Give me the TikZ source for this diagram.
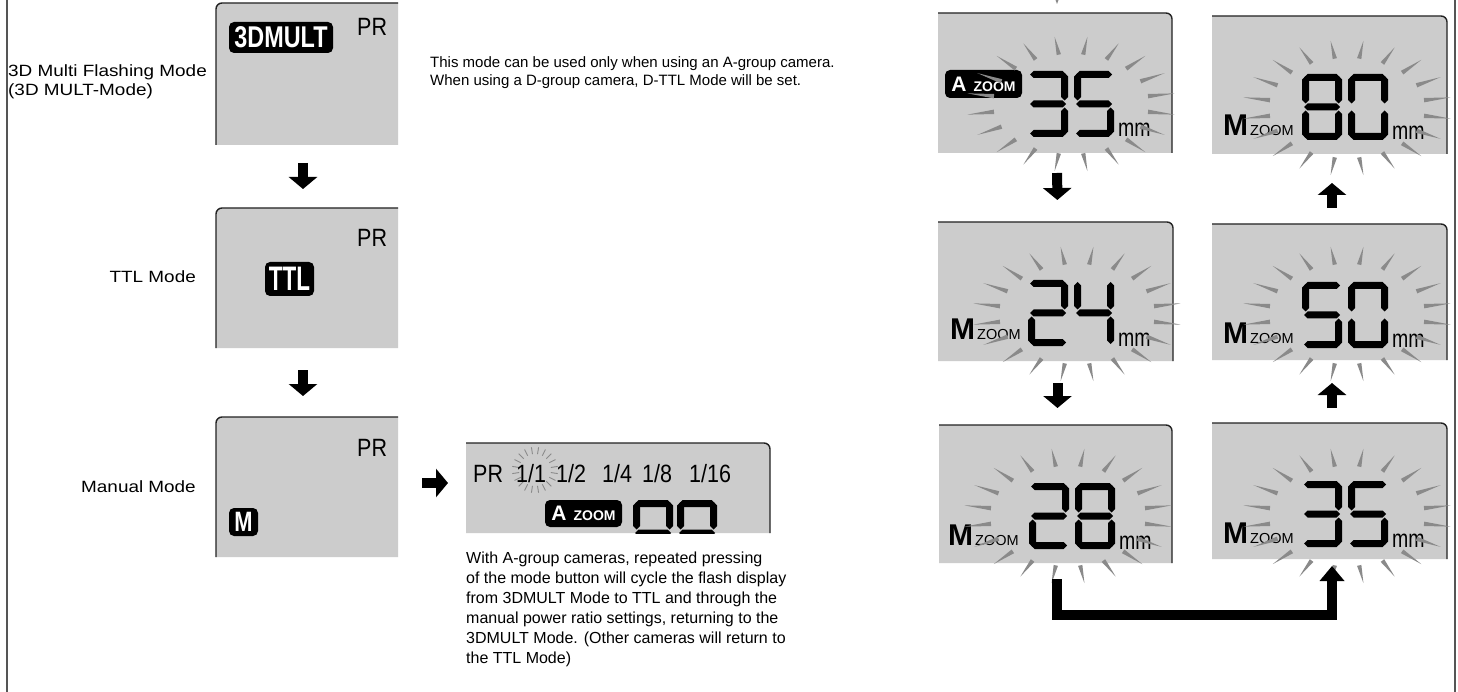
\documentclass[tikz,border=0pt]{standalone}
\usepackage{fontspec}
\setmainfont{Liberation Sans}
\newfontfamily\lcd[FakeStretch=0.86]{Liberation Sans}
\newfontfamily\lcdmm[FakeStretch=0.78]{Liberation Sans}
\newfontfamily\condb[FakeStretch=0.78]{Liberation Sans}
\newfontfamily\condbb[FakeStretch=0.66]{Liberation Sans}
\newfontfamily\widesans[FakeStretch=1.16]{Liberation Sans}
\usetikzlibrary{calc,arrows.meta}
\definecolor{lcdgray}{HTML}{CCCCCC}
\definecolor{edgec}{HTML}{222222}
\definecolor{raygray}{HTML}{8A8A8A}
\definecolor{framec}{HTML}{555555}
\newcommand\fsz[2]{\fontsize{#1}{#2}\selectfont}
% seven-segment pieces (image coordinates, y down)
\newcommand\hseg[3]{\fill[segc] (#1,#3) -- (#1+3.5,#3-3.5) -- (#2-3.5,#3-3.5) -- (#2,#3) -- (#2-3.5,#3+3.5) -- (#1+3.5,#3+3.5) -- cycle;}
\newcommand\vseg[3]{\fill[segc] (#3,#1) -- (#3+3.5,#1+3.5) -- (#3+3.5,#2-3.5) -- (#3,#2) -- (#3-3.5,#2-3.5) -- (#3-3.5,#1+3.5) -- cycle;}
\newcommand\sga[2]{\hseg{#1+2}{#1+38}{#2+3.5}}
\newcommand\sgb[2]{\vseg{#2+2}{#2+29.5}{#1+36.5}}
\newcommand\sgc[2]{\vseg{#2+36.5}{#2+64}{#1+36.5}}
\newcommand\sgd[2]{\hseg{#1+2}{#1+38}{#2+62.5}}
\newcommand\sge[2]{\vseg{#2+36.5}{#2+64}{#1+3.5}}
\newcommand\sgf[2]{\vseg{#2+2}{#2+29.5}{#1+3.5}}
\newcommand\sgg[2]{\hseg{#1+2}{#1+38}{#2+33}}
\newcommand\lcddigit[3]{\foreach \s in {#3}{\csname sg\s\endcsname{#1}{#2}}}
% burst of rays around a centre
\newcommand\burst[2]{%
  \foreach \k in {0,...,19}{%
    \pgfmathsetmacro\rc{cos(9+18*\k)}%
    \pgfmathsetmacro\rs{sin(9+18*\k)}%
    \pgfmathsetmacro\rL{sqrt(729*(\rc)*(\rc)+324*(\rs)*(\rs))}%
    \pgfmathsetmacro\rpx{2.2*18*(\rs)/\rL}%
    \pgfmathsetmacro\rpy{2.2*27*(\rc)/\rL}%
    \fill[rayc] ({#1+78*(\rc)+(\rpx)},{#2-50*(\rs)+(\rpy)}) -- ({#1+105*(\rc)},{#2-68*(\rs)}) -- ({#1+78*(\rc)-(\rpx)},{#2-50*(\rs)-(\rpy)}) -- cycle;}}
% panels
\newcommand\lpanel[4]{%
  \node[panelnode,minimum width=182pt,minimum height=#4pt,anchor=north west] (#1) at (#2,#3) {};
  \fill[lcdfill] (#1.south west) -- ([yshift=-6pt]#1.north west) arc[start angle=180,end angle=90,radius=6pt] -- (#1.north east) -- (#1.south east) -- cycle;
  \draw[lcdedge] (#1.south west) -- ([yshift=-6pt]#1.north west) arc[start angle=180,end angle=90,radius=6pt] -- (#1.north east);}
\newcommand\rpanel[5]{%
  \node[panelnode,minimum width=#4pt,minimum height=#5pt,anchor=north west] (#1) at (#2,#3) {};
  \fill[lcdfill] (#1.south west) -- (#1.north west) -- ([xshift=-6pt]#1.north east) arc[start angle=90,end angle=0,radius=6pt] -- (#1.south east) -- cycle;
  \draw[lcdedge] (#1.north west) -- ([xshift=-6pt]#1.north east) arc[start angle=90,end angle=0,radius=6pt] -- (#1.south east);}
\newcommand\zoomset[5]{%
  \lcddigit{#2+90}{#3+58}{#4}\lcddigit{#2+136}{#3+58}{#5}
  \node[anchor=base west,inner sep=0pt,font=\lcdmm\fsz{25}{25}] (#1mm) at (#2+180,#3+124) {mm};}
\begin{document}
\begin{tikzpicture}[x=1pt,y=-1pt,
  panelnode/.style={rectangle,inner sep=0pt,outer sep=0pt},
  lcdfill/.style={fill=lcdgray},
  lcdedge/.style={draw=edgec,line width=1.4pt},
  badge/.style={fill=black,text=white,rounded corners=5pt,inner sep=0pt},
  segc/.style={fill=black},
  rayc/.style={fill=raygray},
  tickc/.style={draw=raygray,line width=0.9pt},
  blk/.style={line width=10pt,-{Triangle[length=12pt,width=28pt]}},
  frame/.style={draw=framec,line width=1.6pt},
  txt/.style={inner sep=0pt,font=\fsz{16}{19}},
  labtxt/.style={inner sep=0pt,font=\widesans\fsz{16.3}{19.3}},
  lcdtxt/.style={anchor=base west,inner sep=0pt,font=\lcd\fsz{25}{25}},
  mzoom/.style={anchor=base west,inner sep=0pt},
]
\useasboundingbox (0,0) rectangle (1458,692);
\fill[white] (0,0) rectangle (1458,692);
\draw[frame] (7,0) -- (7,692);
\draw[frame] (1455,0) -- (1455,692);

% ---------- left column ----------
\lpanel{pL1}{216}{3}{142}
\lpanel{pL2}{216}{208}{140}
\lpanel{pL3}{216}{417}{140}
\node[badge,minimum width=104pt,minimum height=31pt,font=\condb\bfseries\fsz{30}{30}] (b3d) at (281,37.5) {3DMULT};
\node[lcdtxt] (pr1) at (357,36) {PR};
\node[lcdtxt] (pr2) at (357,247) {PR};
\node[badge,minimum width=49pt,minimum height=34pt,font=\condbb\bfseries\fsz{34}{34}] (bttl) at (289.5,279) {TTL};
\node[lcdtxt] (pr3) at (357,456) {PR};
\node[badge,minimum width=29pt,minimum height=28pt,font=\condb\bfseries\fsz{28}{28}] (bm) at (243.5,522) {M};

\node[labtxt,anchor=west,align=left] (lab1) at (8,81.5) {3D Multi Flashing Mode\\(3D MULT-Mode)};
\node[labtxt,anchor=east] (lab2) at (196,277) {TTL Mode};
\node[labtxt,anchor=east] (lab3) at (196,487) {Manual Mode};
\node[txt,anchor=north west,align=left,font=\fsz{15}{18}] (note1) at (430,56) {This mode can be used only when using an A-group camera.\\When using a D-group camera, D-TTL Mode will be set.};

\draw[blk,shorten <=18pt,shorten >=19pt] ([xshift=-4pt]pL1.south) -- ([xshift=-4pt]pL2.north);
\draw[blk,shorten <=22pt,shorten >=21pt] ([xshift=-4pt]pL2.south) -- ([xshift=-4pt]pL3.north);

% ---------- strip display ----------
\rpanel{strip}{466}{443}{304}{90}
\foreach \k in {0,...,19}{\draw[tickc] ({535+16*cos(9+18*\k)},{470-16*sin(9+18*\k)}) -- ({535+23*cos(9+18*\k)},{470-23*sin(9+18*\k)});}
\node[lcdtxt] (sPR) at (473,482) {PR};
\node[lcdtxt] (s11) at (516,482) {1/1};
\node[lcdtxt] (s12) at (556,482) {1/2};
\node[lcdtxt] (s14) at (602,482) {1/4};
\node[lcdtxt] (s18) at (642,482) {1/8};
\node[lcdtxt] (s116) at (689,482) {1/16};
\node[badge,minimum width=77pt,minimum height=27pt] (sz) at (583.5,513.5) {\bfseries\fsz{21}{21}A\hspace{7pt}\fsz{14}{14}ZOOM};
\begin{scope}
\clip (strip.north west) rectangle (strip.south east);
\lcddigit{633}{500}{a,b,f,g}
\lcddigit{677}{500}{a,b,f,g}
\end{scope}
\draw[blk,shorten <=24pt,shorten >=18pt] ([yshift=4pt]pL3.east) -- ([yshift=5pt]strip.west);
\node[txt,anchor=north west,align=left,font=\fsz{16}{20}] (para) at (466,551.5) {With A-group cameras, repeated pressing\\of the mode button will cycle the flash display\\from 3DMULT Mode to TTL and through the\\manual power ratio settings, returning to the\\3DMULT Mode. (Other cameras will return to\\the TTL Mode)};

% ---------- right grid ----------
\rpanel{pA}{938}{13}{234}{140}
\rpanel{pB}{1212}{16}{235}{138}
\rpanel{pC}{938}{222}{235}{139}
\rpanel{pD}{1212}{224}{235}{136}
\rpanel{pE}{939}{425}{233}{138}
\rpanel{pF}{1212}{423}{235}{136}

\zoomset{A}{938}{13}{a,b,g,c,d}{a,f,g,c,d}
\zoomset{B}{1212}{16}{a,b,c,d,e,f,g}{a,b,c,d,e,f}
\zoomset{C}{938}{222}{a,b,g,e,d}{f,b,g,c}
\zoomset{D}{1212}{224}{a,f,g,c,d}{a,b,c,d,e,f}
\zoomset{E}{939}{425}{a,b,g,e,d}{a,b,c,d,e,f,g}
\zoomset{F}{1212}{423}{a,b,g,c,d}{a,f,g,c,d}

\node[badge,minimum width=77pt,minimum height=28pt] (zA) at (983.5,84) {\bfseries\fsz{21}{21}A\hspace{7pt}\fsz{14}{14}ZOOM};
\node[mzoom] (zB) at (1223,136) {{\bfseries\fsz{30}{30}M}\hspace{2pt}{\fsz{14.5}{15}ZOOM}};
\node[mzoom] (zC) at (950,340) {{\bfseries\fsz{30}{30}M}\hspace{2pt}{\fsz{14.5}{15}ZOOM}};
\node[mzoom] (zD) at (1223,343) {{\bfseries\fsz{30}{30}M}\hspace{2pt}{\fsz{14.5}{15}ZOOM}};
\node[mzoom] (zE) at (948,545) {{\bfseries\fsz{30}{30}M}\hspace{2pt}{\fsz{14.5}{15}ZOOM}};
\node[mzoom] (zF) at (1223,543) {{\bfseries\fsz{30}{30}M}\hspace{2pt}{\fsz{14.5}{15}ZOOM}};

\burst{1071}{104}
\burst{1347}{108}
\burst{1077}{314}
\burst{1347}{314}
\burst{1068}{516}
\burst{1347}{516}
\fill[rayc] (1055.5,0) -- (1058.5,0) -- (1057,4) -- cycle;

\draw[blk,shorten <=20pt,shorten >=22pt] ([xshift=2pt]pA.south) -- ([xshift=2pt]pC.north);
\draw[blk,shorten <=22pt,shorten >=17pt] ([xshift=2pt]pC.south) -- ([xshift=2pt]pE.north);
\draw[blk,shorten <=15pt,shorten >=23pt] ([xshift=2.5pt]pF.north) -- ([xshift=2.5pt]pD.south);
\draw[blk,shorten <=16pt,shorten >=29pt] ([xshift=2.5pt]pD.north) -- ([xshift=2.5pt]pB.south);
\draw[line width=10pt,line join=miter,-{Triangle[length=15pt,width=24pt]}] ($(pE.south)+(1.5,16)$) -- ($(pE.south)+(1.5,51.5)$) -| ($(pF.south)+(2.5,7)$);
\end{tikzpicture}
\end{document}
